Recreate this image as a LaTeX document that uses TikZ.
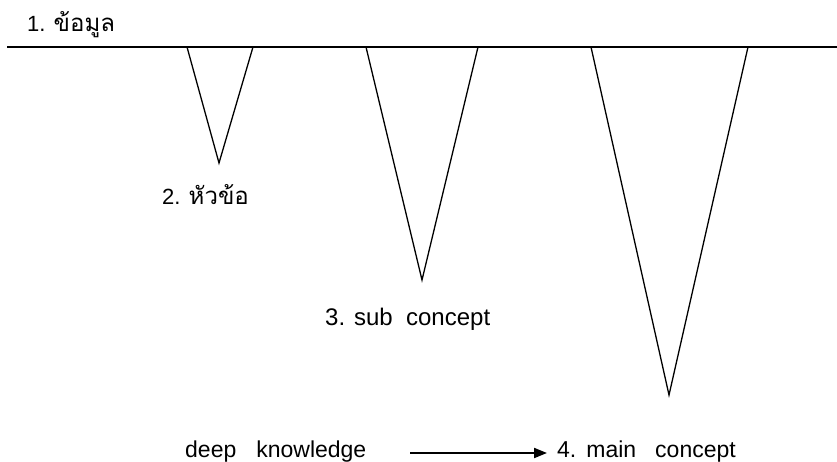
\documentclass[tikz,border=0pt]{standalone}
\usepackage{fontspec}
\setmainfont{Liberation Sans}
\newfontfamily\thaifont[Script=Thai]{Loma}
\usetikzlibrary{arrows.meta,positioning}

\begin{document}
\begin{tikzpicture}[x=1pt,y=-1pt,
  label/.style={inner sep=0pt, anchor=base west, font=\fontsize{22}{26}\selectfont},
  bottom/.style={inner sep=0pt, anchor=base west, font=\fontsize{23}{27}\selectfont},
  funnel/.style={line width=1.3pt},
  every node/.style={align=left}
]
\useasboundingbox (0,0) rectangle (837,462);

\draw[line width=2.2pt] (7,47) -- (837,47);

\draw[funnel] (187,47) -- (219,163) -- (253,47);
\draw[funnel] (366,47) -- (422,280) -- (478,47);
\draw[funnel] (591,47) -- (669,395) -- (748,47);

\node[label] (data) at (27,32) {1. {\thaifont\fontsize{24}{28}\selectfont ข้อมูล}};
\node[label] (topic) at (162,205) {2. {\thaifont\fontsize{24}{28}\selectfont หัวข้อ}};
\node[label, font=\fontsize{24}{28}\selectfont] (sub) at (325,325) {3. sub\ \ concept};

\node[bottom] (deep) at (185,457) {deep\hspace{20pt}knowledge};
\node[bottom] (main) at (557,457) {4.\hspace{10pt}main\hspace{19pt}concept};
\coordinate (start) at (410,453);

\draw[line width=2pt, -{Triangle[length=13pt,width=10pt]}, shorten >=10pt] (start) -- (main.west |- start);

\end{tikzpicture}
\end{document}
